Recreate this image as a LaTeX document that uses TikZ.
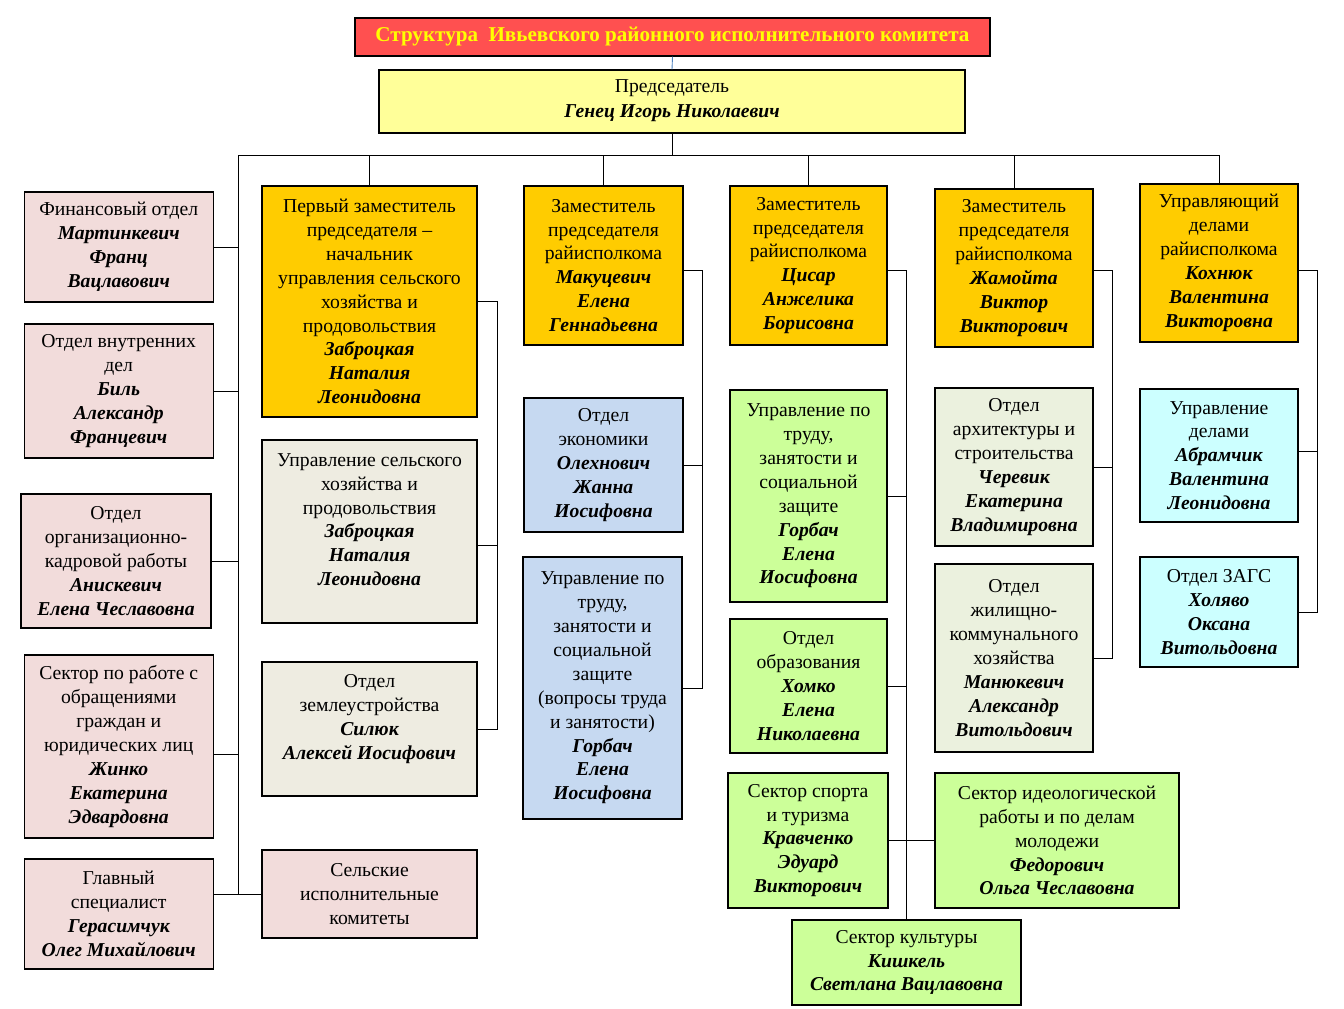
\documentclass[tikz,border=0pt]{standalone}
\usepackage{fontspec}
\setmainfont{Liberation Serif}
\usetikzlibrary{positioning}

\definecolor{titlered}{HTML}{FF5050}
\definecolor{titleyel}{HTML}{FFFF00}
\definecolor{chairyel}{HTML}{FFFF99}
\definecolor{headgold}{HTML}{FFCC00}
\definecolor{pinkbox}{HTML}{F2DCDB}
\definecolor{beigebox}{HTML}{EEECE1}
\definecolor{sagebox}{HTML}{EBF1DE}
\definecolor{bluebox}{HTML}{C6D9F1}
\definecolor{greenbox}{HTML}{CCFF99}
\definecolor{cyanbox}{HTML}{CCFFFF}
\definecolor{linkblue}{HTML}{4F81BD}

\newcommand\fio[1]{{\bfseries\itshape #1}}
\newcommand\px{0.02cm}

\tikzset{
  box/.style={draw,line width=0.6pt,align=center,inner sep=1pt,
    font=\fontsize{11.2}{13.6}\selectfont},
  link/.style={line width=0.5pt}
}

\begin{document}
\begin{tikzpicture}[x=0.02cm,y=-0.02cm]
    \useasboundingbox (0,0) rectangle (1344,1008);

    % head
    \node[box,minimum width=635*\px,minimum height=38*\px,fill=titlered,text=titleyel,font=\fontsize{12}{14}\bfseries] (title) at (672.5,37)
      {Структура\ \ Ивьевского районного исполнительного комитета};
    \node[box,minimum width=586*\px,minimum height=63*\px,fill=chairyel,font=\fontsize{11.2}{14.2}\selectfont] (chair) at (672,101.5)
      {Председатель\\ \fio{Генец Игорь Николаевич}\rule[-3pt]{0pt}{3pt}};

    % left column
    \node[box,minimum width=189*\px,minimum height=110*\px,fill=pinkbox] (fin) at (118.75,247)
      {Финансовый отдел\\ \fio{Мартинкевич}\\ \fio{Франц}\\ \fio{Вацлавович}};
    \node[box,minimum width=189*\px,minimum height=134*\px,fill=pinkbox] (vnutr) at (118.75,391)
      {Отдел внутренних\\ дел\\ \fio{Биль}\\ \fio{Александр}\\ \fio{Францевич}};
    \node[box,minimum width=190*\px,minimum height=134*\px,fill=pinkbox] (orgk) at (116,561)
      {Отдел\\ организационно-\\ кадровой работы\\ \fio{Анискевич}\\ \fio{Елена Чеславовна}};
    \node[box,minimum width=189*\px,minimum height=183*\px,fill=pinkbox] (obr) at (118.75,746.5)
      {Сектор по работе с\\ обращениями\\ граждан и\\ юридических лиц\\ \fio{Жинко}\\ \fio{Екатерина}\\ \fio{Эдвардовна}};
    \node[box,minimum width=189*\px,minimum height=110*\px,fill=pinkbox] (glav) at (118.75,914)
      {Главный\\ специалист\\ \fio{Герасимчук}\\ \fio{Олег Михайлович}};

    % first deputy
    \node[box,minimum width=215*\px,minimum height=231*\px,fill=headgold] (first) at (369.5,301.5)
      {Первый заместитель\\ председателя –\\ начальник\\ управления сельского\\ хозяйства и\\ продовольствия\\ \fio{Заброцкая}\\ \fio{Наталия}\\ \fio{Леонидовна}};
    \node[box,minimum width=215*\px,minimum height=183*\px,fill=beigebox] (selhoz) at (369.5,531.5)
      {Управление сельского\\ хозяйства и\\ продовольствия\\ \fio{Заброцкая}\\ \fio{Наталия}\\ \fio{Леонидовна}\\ \mbox{}};
    \node[box,minimum width=215*\px,minimum height=134*\px,fill=beigebox] (zem) at (369.5,729)
      {Отдел\\ землеустройства\\ \fio{Силюк}\\ \fio{Алексей Иосифович}\\ \mbox{}};
    \node[box,minimum width=215*\px,minimum height=88*\px,fill=pinkbox] (sel) at (369.5,894)
      {Сельские\\ исполнительные\\ комитеты};

    % deputy Makutsevich
    \node[box,minimum width=159*\px,minimum height=159*\px,fill=headgold] (mak) at (603.5,265.5)
      {Заместитель\\ председателя\\ райисполкома\\ \fio{Макуцевич}\\ \fio{Елена}\\ \fio{Геннадьевна}};
    \node[box,minimum width=159*\px,minimum height=134*\px,fill=bluebox] (econ) at (603.5,465)
      {Отдел\\ экономики\\ \fio{Олехнович}\\ \fio{Жанна}\\ \fio{Иосифовна}};
    \node[box,minimum width=159*\px,minimum height=262*\px,fill=bluebox] (trudb) at (602.5,688)
      {Управление по\\ труду,\\ занятости и\\ социальной\\ защите\\ (вопросы труда\\ и занятости)\\ \fio{Горбач}\\ \fio{Елена}\\ \fio{Иосифовна}};

    % deputy Tsisar
    \node[box,minimum width=157*\px,minimum height=159*\px,fill=headgold] (cis) at (808.5,265.5)
      {Заместитель\\ председателя\\ райисполкома\\ \fio{Цисар}\\ \fio{Анжелика}\\ \fio{Борисовна}};
    \node[box,minimum width=157*\px,minimum height=212*\px,fill=greenbox] (trudg) at (808.5,496)
      {Управление по\\ труду,\\ занятости и\\ социальной\\ защите\\ \fio{Горбач}\\ \fio{Елена}\\ \fio{Иосифовна}};
    \node[box,minimum width=157*\px,minimum height=134*\px,fill=greenbox] (educ) at (808.5,686)
      {Отдел\\ образования\\ \fio{Хомко}\\ \fio{Елена}\\ \fio{Николаевна}};
    \node[box,minimum width=160*\px,minimum height=135*\px,fill=greenbox] (sport) at (808,840.5)
      {Сектор спорта\\ и туризма\\ \fio{Кравченко}\\ \fio{Эдуард}\\ \fio{Викторович}};
    \node[box,minimum width=244*\px,minimum height=135*\px,fill=greenbox] (ideo) at (1057,840.5)
      {Сектор идеологической\\ работы и по делам\\ молодежи\\ \fio{Федорович}\\ \fio{Ольга Чеславовна}};
    \node[box,minimum width=229*\px,minimum height=85*\px,fill=greenbox] (kult) at (906.5,962.5)
      {Сектор культуры\\ \fio{Кишкель}\\ \fio{Светлана Вацлавовна}};

    % deputy Zhamoita
    \node[box,minimum width=158*\px,minimum height=158*\px,fill=headgold] (zham) at (1014,268)
      {Заместитель\\ председателя\\ райисполкома\\ \fio{Жамойта}\\ \fio{Виктор}\\ \fio{Викторович}};
    \node[box,minimum width=158*\px,minimum height=158*\px,fill=sagebox] (arch) at (1014,467)
      {Отдел\\ архитектуры и\\ строительства\\ \fio{Черевик}\\ \fio{Екатерина}\\ \fio{Владимировна}};
    \node[box,minimum width=158*\px,minimum height=188*\px,fill=sagebox] (zhkh) at (1014,658)
      {Отдел\\ жилищно-\\ коммунального\\ хозяйства\\ \fio{Манюкевич}\\ \fio{Александр}\\ \fio{Витольдович}};

    % head of affairs
    \node[box,minimum width=158*\px,minimum height=158*\px,fill=headgold] (upr) at (1219,263)
      {Управляющий\\ делами\\ райисполкома\\ \fio{Кохнюк}\\ \fio{Валентина}\\ \fio{Викторовна}};
    \node[box,minimum width=158*\px,minimum height=133*\px,fill=cyanbox] (uprd) at (1219,455.5)
      {Управление\\ делами\\ \fio{Абрамчик}\\ \fio{Валентина}\\ \fio{Леонидовна}};
    \node[box,minimum width=158*\px,minimum height=110*\px,fill=cyanbox] (zags) at (1219,612)
      {Отдел ЗАГС\\ \fio{Холяво}\\ \fio{Оксана}\\ \fio{Витольдовна}};

    % connectors
    \coordinate (busL) at (238,155);
    \coordinate (busR) at (1219,155);
    \coordinate (t2) at (497,0);
    \coordinate (t3) at (702,0);
    \coordinate (t4) at (907,0);
    \coordinate (t5) at (1112,0);
    \coordinate (t6) at (1317,0);

    \draw[link,draw=linkblue] (title.south) -- (chair.north);
    \draw[link] (chair.south) -- (chair.south |- busL);
    \draw[link] (busL) -- (busR);
    \foreach \n in {first,mak,cis,zham,upr}
      \draw[link] (\n.north) -- (\n.north |- busL);

    \draw[link] (busL) -- (busL |- sel.west);
    \foreach \n in {fin,vnutr,orgk}
      \draw[link] (\n.east) -- (\n.east -| busL);
    \draw[link] ([yshift=-0.15cm]obr.east) -- ([yshift=-0.15cm]obr.east -| busL);
    \draw[link] (glav.east |- sel.west) -- (sel.west);

    \draw[link] (first.east) -| (t2 |- zem.east) -- (zem.east);
    \draw[link] ([yshift=-0.27cm]selhoz.east) -- ([yshift=-0.27cm]selhoz.east -| t2);

    \draw[link] ([yshift=-0.09cm]mak.east) -| (t3 |- trudb.east) -- (trudb.east);
    \draw[link] (econ.east) -- (econ.east -| t3);

    \draw[link] ([yshift=-0.09cm]cis.east) -| (kult.north);
    \foreach \n in {trudg,educ,sport}
      \draw[link] (\n.east) -- (\n.east -| t4);
    \draw[link] (t4 |- ideo.west) -- (ideo.west);

    \draw[link] ([yshift=-0.04cm]zham.east) -| (t5 |- zhkh.east) -- (zhkh.east);
    \draw[link] (arch.east) -- (arch.east -| t5);

    \draw[link] ([yshift=-0.14cm]upr.east) -| (t6 |- zags.east) -- (zags.east);
    \draw[link] ([yshift=0.09cm]uprd.east) -- ([yshift=0.09cm]uprd.east -| t6);
\end{tikzpicture}
\end{document}
